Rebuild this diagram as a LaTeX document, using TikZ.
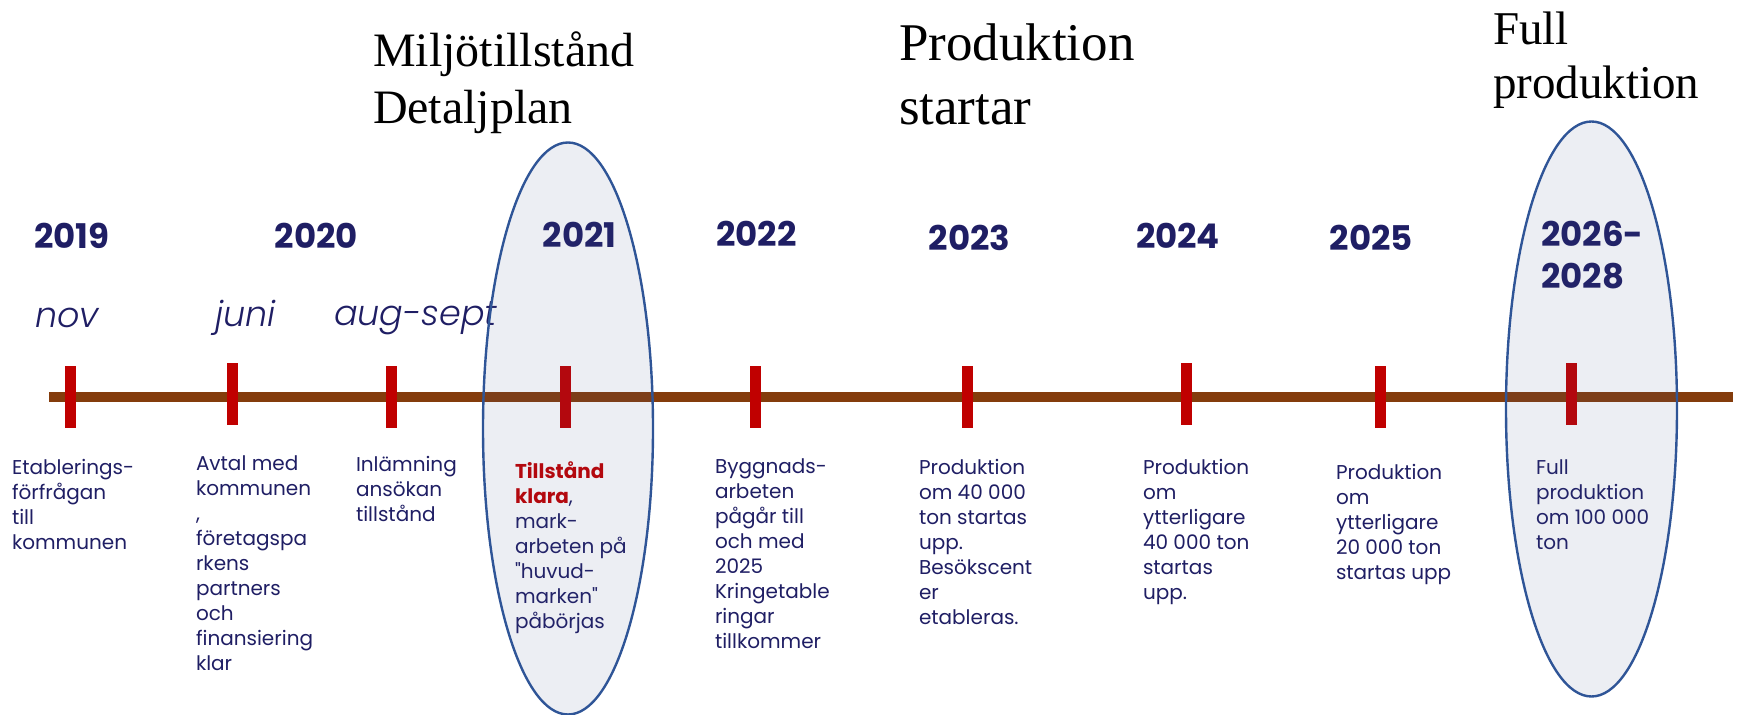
\documentclass[tikz,border=0pt]{standalone}
\usepackage{fontspec}
\setmainfont{Poppins}[Ligatures=TeXOff]
\newfontfamily\headfont{Liberation Serif}
\newfontface\monthfont{Poppins Light Italic}
\usepackage{tikz}
\usetikzlibrary{positioning}
\definecolor{navy}{RGB}{31,30,100}
\definecolor{tickred}{RGB}{192,0,0}
\definecolor{axisbrown}{RGB}{132,60,12}
\definecolor{ovalblue}{RGB}{47,85,151}
\definecolor{ovalfill}{RGB}{68,84,140}

\begin{document}
\begin{tikzpicture}[x=0.5pt,y=-0.5pt,
    every node/.style={inner sep=0pt,outer sep=0pt},
    tick/.style={fill=tickred,minimum width=5.5pt,minimum height=31pt},
    year/.style={text=navy,font=\bfseries\fontsize{17}{21}\selectfont,align=left},
    month/.style={text=navy,font=\monthfont\fontsize{17.5}{21}\selectfont,anchor=base west},
    desc/.style={text=navy,font=\fontsize{10}{12.5}\selectfont,align=left,anchor=north west},
    head/.style={font=\headfont\fontsize{24}{28.5}\selectfont,align=left,anchor=base west},
    oval/.style={draw=ovalblue,line width=1.2pt,fill=ovalfill,fill opacity=0.1}]
  \useasboundingbox (0,0) rectangle (1737,715);
  \coordinate (s) at (49,397);
  \coordinate (e) at (1733,397);
  \draw[axisbrown,line width=5.3pt] (s) -- (e);

  \node[tick] (t1) at (70,397) {};
  \node[tick] (t2) at (232,394.5) {};
  \node[tick] (t3) at (391,397) {};
  \node[tick] (t4) at (565.5,397) {};
  \node[tick] (t5) at (755,397) {};
  \node[tick] (t6) at (967,397) {};
  \node[tick] (t7) at (1186,394.5) {};
  \node[tick] (t8) at (1380,397) {};
  \node[tick] (t9) at (1571,394.5) {};

  \node[year] (y1) at (72,235.5) {2019};
  \node[year] (y2) at (316.5,235.5) {2020};
  \node[year] (y3) at (579.5,235) {2021};
  \node[year] (y4) at (756.5,234) {2022};
  \node[year] (y5) at (969.5,237.5) {2023};
  \node[year] (y6) at (1178,236) {2024};
  \node[year] (y7) at (1371.5,237.5) {2025};
  \node[year,anchor=north west] (y8) at (1541,221.5) {2026-\\2028};

  \node[month] (m1) at (35,328) {nov};
  \node[month] (m2) at (215,327) {juni};
  \node[month] (m3) at (334,326) {aug-sept};

  \node[desc] (d1) at (12,459) {Etablerings-\\förfrågan\\till\\kommunen};
  \node[desc] (d2) at (196,456) {Avtal med\\kommunen\\,\\företagspa\\rkens\\partners\\och\\finansiering\\klar};
  \node[desc] (d3) at (356,456) {Inlämning\\ansökan\\tillstånd};
  \node[desc] (d4) at (515,462) {{\color{tickred}\bfseries Tillstånd}\\{\color{tickred}\bfseries klara},\\mark-\\arbeten på\\"huvud-\\marken"\\påbörjas};
  \node[desc] (d5) at (715,459) {Byggnads-\\arbeten\\pågår till\\och med\\2025\\Kringetable\\ringar\\tillkommer};
  \node[desc] (d6) at (919,459) {Produktion\\om 40 000\\ton startas\\upp.\\Besökscent\\er\\etableras.};
  \node[desc] (d7) at (1143,459) {Produktion\\om\\ytterligare\\40 000 ton\\startas\\upp.};
  \node[desc] (d8) at (1336,464) {Produktion\\om\\ytterligare\\20 000 ton\\startas upp};
  \node[desc] (d9) at (1536,460) {Full\\produktion\\om 100 000\\ton};

  \node[head] (h1) at (373,124) {Miljötillstånd\\Detaljplan};
  \node[head,font=\headfont\fontsize{26.5}{32}\selectfont] (h2) at (899,125) {Produktion\\startar};
  \node[head,font=\headfont\fontsize{23.5}{27}\selectfont] (h3) at (1493,99) {Full\\produktion};

  \draw[oval] (568,428.5) ellipse [x radius=42.5pt,y radius=143pt];
  \draw[oval] (1591.5,409) ellipse [x radius=42.75pt,y radius=143.75pt];
\end{tikzpicture}
\end{document}
